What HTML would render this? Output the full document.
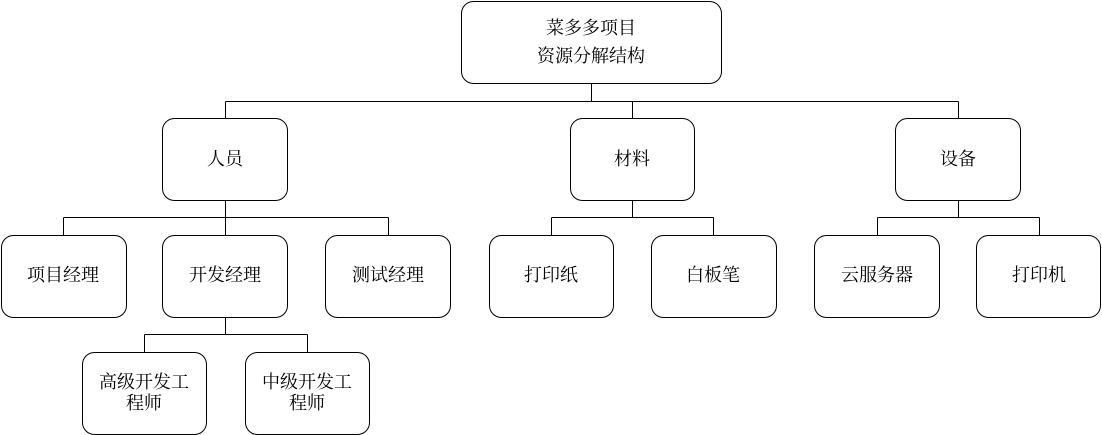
<!DOCTYPE html>
<html><head><meta charset="utf-8"><style>
html,body{margin:0;padding:0;background:#fff;}
svg{display:block;}
text{font-family:"Liberation Serif","Noto Serif CJK SC",serif;font-size:18px;fill:#000;text-anchor:middle;dominant-baseline:central;}
rect{fill:#fff;stroke:#000;stroke-width:1;}
path{fill:none;stroke:#000;stroke-width:1;}
</style></head><body>
<svg width="1102" height="435" viewBox="0 0 1102 435" xmlns="http://www.w3.org/2000/svg">
<path d="M591.5 83V101.5M225.5 101.5H958.5M225.5 101.5V118M632.5 101.5V118M958.5 101.5V118"/>
<path d="M225.5 200V217.5M63.5 217.5H388.5M63.5 217.5V235M225.5 217.5V235M388.5 217.5V235"/>
<path d="M632.5 200V217.5M551.5 217.5H713.5M551.5 217.5V235M713.5 217.5V235"/>
<path d="M958.5 200V217.5M877.5 217.5H1039.5M877.5 217.5V235M1039.5 217.5V235"/>
<path d="M225.5 317V334.5M144.5 334.5H307.5M144.5 334.5V352M307.5 334.5V352"/>
<rect x="461.5" y="1.5" width="260" height="82" rx="12"/>
<text x="591" y="28">菜多多项目</text><text x="591" y="56">资源分解结构</text>
<rect x="162.5" y="118.5" width="125" height="82" rx="12"/><text x="225" y="159">人员</text>
<rect x="570.5" y="118.5" width="124" height="82" rx="12"/><text x="632" y="159">材料</text>
<rect x="895.5" y="118.5" width="125" height="82" rx="12"/><text x="958" y="159">设备</text>
<rect x="1.5" y="235.5" width="125" height="82" rx="12"/><text x="63" y="275">项目经理</text>
<rect x="162.5" y="235.5" width="125" height="82" rx="12"/><text x="225" y="275">开发经理</text>
<rect x="325.5" y="235.5" width="125" height="82" rx="12"/><text x="388" y="275">测试经理</text>
<rect x="489.5" y="235.5" width="124" height="82" rx="12"/><text x="551" y="275">打印纸</text>
<rect x="651.5" y="235.5" width="125" height="82" rx="12"/><text x="713" y="275">白板笔</text>
<rect x="814.5" y="235.5" width="125" height="82" rx="12"/><text x="877" y="275">云服务器</text>
<rect x="976.5" y="235.5" width="124" height="82" rx="12"/><text x="1039" y="275">打印机</text>
<rect x="82.5" y="352.5" width="124" height="82" rx="12"/><text x="144" y="382">高级开发工</text><text x="144" y="403">程师</text>
<rect x="245.5" y="352.5" width="124" height="82" rx="12"/><text x="307" y="382">中级开发工</text><text x="307" y="403">程师</text>
</svg>
</body></html>
